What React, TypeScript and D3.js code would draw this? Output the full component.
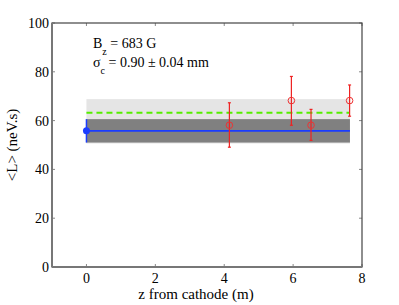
import React, { useEffect, useRef } from 'react';
import * as d3 from 'd3';

// measured points (z in m, <L> in neV.s, error)
const zPoints = [4.15, 5.95, 6.52, 7.64];
const lPoints = [58.1, 68.2, 58.1, 68.2];
const lErrUp = [9.2, 9.9, 6.5, 6.4];
const lErrDown = [9.0, 10.1, 6.2, 6.4];

// model at cathode
const zModel = [0, 7.65];
const lModel = 55.8;
const lModelErr = 4.8;
const darkBand = [51.0, 60.6];
const lightBand = [50.6, 68.8];
const lDashed = 63.2;

const xTicks = [0, 2, 4, 6, 8];
const yTicks = [0, 20, 40, 60, 80, 100];

const App = () => {
  const svgRef = useRef<SVGSVGElement>(null);

  useEffect(() => {
    const W = 399, H = 305;
    const left = 52, right = 362, top = 23, bottom = 267;
    const svg = d3.select(svgRef.current);
    svg.selectAll('*').remove();
    svg.attr('width', W).attr('height', H);

    const x = d3.scaleLinear().domain([-1, 8]).range([left, right]);
    const y = d3.scaleLinear().domain([0, 100]).range([bottom, top]);
    const font = "'Liberation Serif', 'DejaVu Serif', serif";

    // bands
    svg.append('rect')
      .attr('x', x(zModel[0])).attr('width', x(zModel[1]) - x(zModel[0]))
      .attr('y', y(lightBand[1])).attr('height', y(lightBand[0]) - y(lightBand[1]))
      .attr('fill', '#e5e5e5');
    svg.append('rect')
      .attr('x', x(zModel[0])).attr('width', x(zModel[1]) - x(zModel[0]))
      .attr('y', y(darkBand[1])).attr('height', y(darkBand[0]) - y(darkBand[1]))
      .attr('fill', '#808080');

    // green dashed
    svg.append('line')
      .attr('x1', x(zModel[0])).attr('x2', x(zModel[1]))
      .attr('y1', y(lDashed)).attr('y2', y(lDashed))
      .attr('stroke', '#55ee00').attr('stroke-width', 2)
      .attr('stroke-dasharray', '6,4');

    // blue line
    svg.append('line')
      .attr('x1', x(zModel[0])).attr('x2', x(zModel[1]))
      .attr('y1', y(lModel)).attr('y2', y(lModel))
      .attr('stroke', '#1a3cff').attr('stroke-width', 1.6);
    svg.append('line')
      .attr('x1', x(0)).attr('x2', x(0))
      .attr('y1', y(lModel + lModelErr)).attr('y2', y(lModel - lModelErr))
      .attr('stroke', '#1a3cff').attr('stroke-width', 1.5);
    svg.append('circle')
      .attr('cx', x(0)).attr('cy', y(lModel)).attr('r', 3.5)
      .attr('fill', '#1a3cff');

    // red points with error bars
    const pts = zPoints.map((z, i) => ({ z, l: lPoints[i], up: lErrUp[i], dn: lErrDown[i] }));
    const g = svg.append('g');
    pts.forEach(p => {
      g.append('line')
        .attr('x1', x(p.z)).attr('x2', x(p.z))
        .attr('y1', y(p.l + p.up)).attr('y2', y(p.l - p.dn))
        .attr('stroke', '#ee2222').attr('stroke-width', 1.2);
      [p.l + p.up, p.l - p.dn].forEach(v => {
        g.append('line')
          .attr('x1', x(p.z) - 1.5).attr('x2', x(p.z) + 1.5)
          .attr('y1', y(v)).attr('y2', y(v))
          .attr('stroke', '#ee2222').attr('stroke-width', 1.2);
      });
      g.append('circle')
        .attr('cx', x(p.z)).attr('cy', y(p.l)).attr('r', 3.3)
        .attr('fill', 'none').attr('stroke', '#ee3333').attr('stroke-width', 1);
    });

    // ticks (inside, all four sides)
    const tk = svg.append('g').attr('stroke', '#888').attr('stroke-width', 1);
    xTicks.forEach(t => {
      tk.append('line').attr('x1', x(t)).attr('x2', x(t)).attr('y1', bottom).attr('y2', bottom - 3);
      tk.append('line').attr('x1', x(t)).attr('x2', x(t)).attr('y1', top).attr('y2', top + 3);
    });
    yTicks.forEach(t => {
      tk.append('line').attr('x1', left).attr('x2', left + 3).attr('y1', y(t)).attr('y2', y(t));
      tk.append('line').attr('x1', right).attr('x2', right - 3).attr('y1', y(t)).attr('y2', y(t));
    });

    // frame
    svg.append('rect')
      .attr('x', left).attr('y', top).attr('width', right - left).attr('height', bottom - top)
      .attr('fill', 'none').attr('stroke', '#444').attr('stroke-width', 1.2);
    svg.append('line').attr('x1', left).attr('x2', left).attr('y1', top).attr('y2', bottom)
      .attr('stroke', '#777').attr('stroke-width', 2);
    svg.append('line').attr('x1', left).attr('x2', right).attr('y1', bottom).attr('y2', bottom)
      .attr('stroke', '#777').attr('stroke-width', 2);

    // tick labels
    svg.selectAll('.xl').data(xTicks).enter().append('text')
      .attr('x', d => x(d)).attr('y', bottom + 16)
      .attr('text-anchor', 'middle').style('font-family', font).attr('font-size', 14)
      .text(d => d);
    svg.selectAll('.yl').data(yTicks).enter().append('text')
      .attr('x', left - 3).attr('y', d => y(d) + 5)
      .attr('text-anchor', 'end').style('font-family', font).attr('font-size', 14)
      .text(d => d);

    // axis labels
    svg.append('text')
      .attr('x', 196).attr('y', 299)
      .attr('text-anchor', 'middle').style('font-family', font).attr('font-size', 15)
      .text('z from cathode (m)');
    svg.append('text')
      .attr('transform', `translate(17,145) rotate(-90)`)
      .attr('text-anchor', 'middle').style('font-family', font).attr('font-size', 15)
      .text('<L> (neV.s)');

    // annotation
    const a1 = svg.append('text').attr('x', 93).attr('y', 48)
      .style('font-family', font).attr('font-size', 14);
    a1.append('tspan').text('B');
    a1.append('tspan').attr('dy', 7).attr('font-size', 10).text('z');
    a1.append('tspan').attr('dy', -7).text(' = 683 G');
    const a2 = svg.append('text').attr('x', 93).attr('y', 67)
      .style('font-family', font).attr('font-size', 14);
    a2.append('tspan').text('σ');
    a2.append('tspan').attr('dy', 7).attr('font-size', 10).text('c');
    a2.append('tspan').attr('dy', -7).text(' = 0.90 ± 0.04 mm');
  }, []);

  return <svg ref={svgRef} style={{ position: 'absolute', left: 0, top: 0 }}></svg>;
};

export default App;
